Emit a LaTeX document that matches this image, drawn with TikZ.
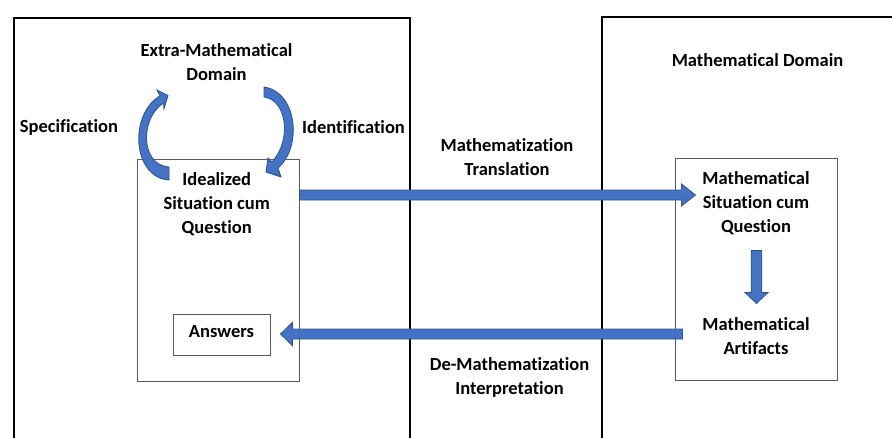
\documentclass[tikz,border=0pt]{standalone}
\usepackage{fontspec}
\setmainfont{Carlito}[Ligatures=NoCommon]
\usetikzlibrary{calc}

\definecolor{arrowfill}{HTML}{4472C4}
\definecolor{arrowedge}{HTML}{2F528F}
\definecolor{boxgray}{HTML}{595959}

% Straight block arrow: #1 tail, #2 tip, #3 shaft half width,
% #4 head length, #5 head half width
\newcommand\blockarrow[5]{%
  \coordinate (headbase) at ($(#2)!#4!(#1)$);
  \draw[blockarrow]
    ($(#1)!#3!90:(#2)$) -- ($(headbase)!#3!90:(#2)$)
    -- ($(headbase)!#5!90:(#2)$) -- (#2)
    -- ($(headbase)!#5!-90:(#2)$) -- ($(headbase)!#3!-90:(#2)$)
    -- ($(#1)!#3!-90:(#2)$) -- cycle;}

\begin{document}
\begin{tikzpicture}[x=1pt,y=-1pt,
  labeltext/.style={font=\fontsize{18.5}{24}\selectfont\bfseries,
    align=center, inner sep=0pt},
  domainframe/.style={draw=black, line width=1.5pt, inner sep=0pt,
    anchor=north west},
  innerframe/.style={draw=boxgray, line width=1pt, inner sep=0pt},
  blockarrow/.style={fill=arrowfill, draw=arrowedge, line width=0.8pt,
    line join=miter}]
\useasboundingbox (0,0) rectangle (892,437);
\fill[white] (0,0) rectangle (892,437);

% the two domains (open towards the page edges)
\node[domainframe, minimum width=396pt, minimum height=440pt] (extra) at (13,17) {};
\node[domainframe, minimum width=320pt, minimum height=440pt] (mathdom) at (601,16) {};

% inner boxes
\node[innerframe, minimum width=162pt, minimum height=222pt] (iq) at (218,270) {};
\node[innerframe, minimum width=162pt, minimum height=221.5pt] (mq) at (756,269.25) {};
\node[innerframe, labeltext, minimum width=97pt, minimum height=41.5pt,
  text height=12pt, text depth=7pt] (ans) at (221.5,334.75) {Answers};

% labels
\node[labeltext] (extralbl) at (216.5,62.1) {Extra-Mathematical\\Domain};
\node[labeltext] (speclbl) at (69,127.5) {Specification};
\node[labeltext] (identlbl) at (353.5,127) {Identification};
\node[labeltext] (iqlbl) at (216.7,203.9) {Idealized\\Situation cum\\Question};
\node[labeltext] (mathlbl) at (757.5,60.4) {Mathematical Domain};
\node[labeltext] (mqlbl) at (756,203) {Mathematical\\Situation cum\\Question};
\node[labeltext] (artlbl) at (756,335.7) {Mathematical\\Artifacts};
\node[labeltext] (translbl) at (507,156.6) {Mathematization\\Translation};
\node[labeltext] (interlbl) at (509.5,377) {De-Mathematization\\Interpretation};

% heights of the two horizontal arrows
\coordinate (rowtop) at (0,195);
\coordinate (rowbot) at (0,334);

% mathematization: idealized situation -> mathematical situation
\coordinate (mtail) at (iq.east |- rowtop);
\coordinate (mtip) at ($(mq.west |- rowtop)+(21,0)$);
\blockarrow{mtail}{mtip}{5pt}{14pt}{11pt}

% de-mathematization: mathematical artifacts -> answers
\coordinate (dtail) at ($(mq.west |- rowbot)+(8,0)$);
\coordinate (dtip) at ($(ans.east |- rowbot)+(10,0)$);
\blockarrow{dtail}{dtip}{5pt}{12pt}{11.7pt}

% working inside the mathematical domain
\coordinate (wtail) at ($(mq.north)+(0.5,92.5)$);
\coordinate (wtip) at ($(mq.north)+(0.5,145.5)$);
\blockarrow{wtail}{wtip}{5.3pt}{11pt}{11.5pt}

% specification (curving up on the left)
\draw[blockarrow] (169,180) .. controls (133,178) and (128,115) .. (160,95.8)
  -- (157,90) -- (168,95.5) -- (164,109) -- (163.5,103)
  .. controls (140,118) and (140,165) .. (169,167) -- cycle;

% identification (curving down on the right)
\draw[blockarrow] (264,87) .. controls (298,92) and (302,148) .. (278,168)
  -- (281,177) -- (266,172) -- (268,158) -- (272,162)
  .. controls (292,140) and (287,100) .. (264,97) -- cycle;
\end{tikzpicture}
\end{document}
